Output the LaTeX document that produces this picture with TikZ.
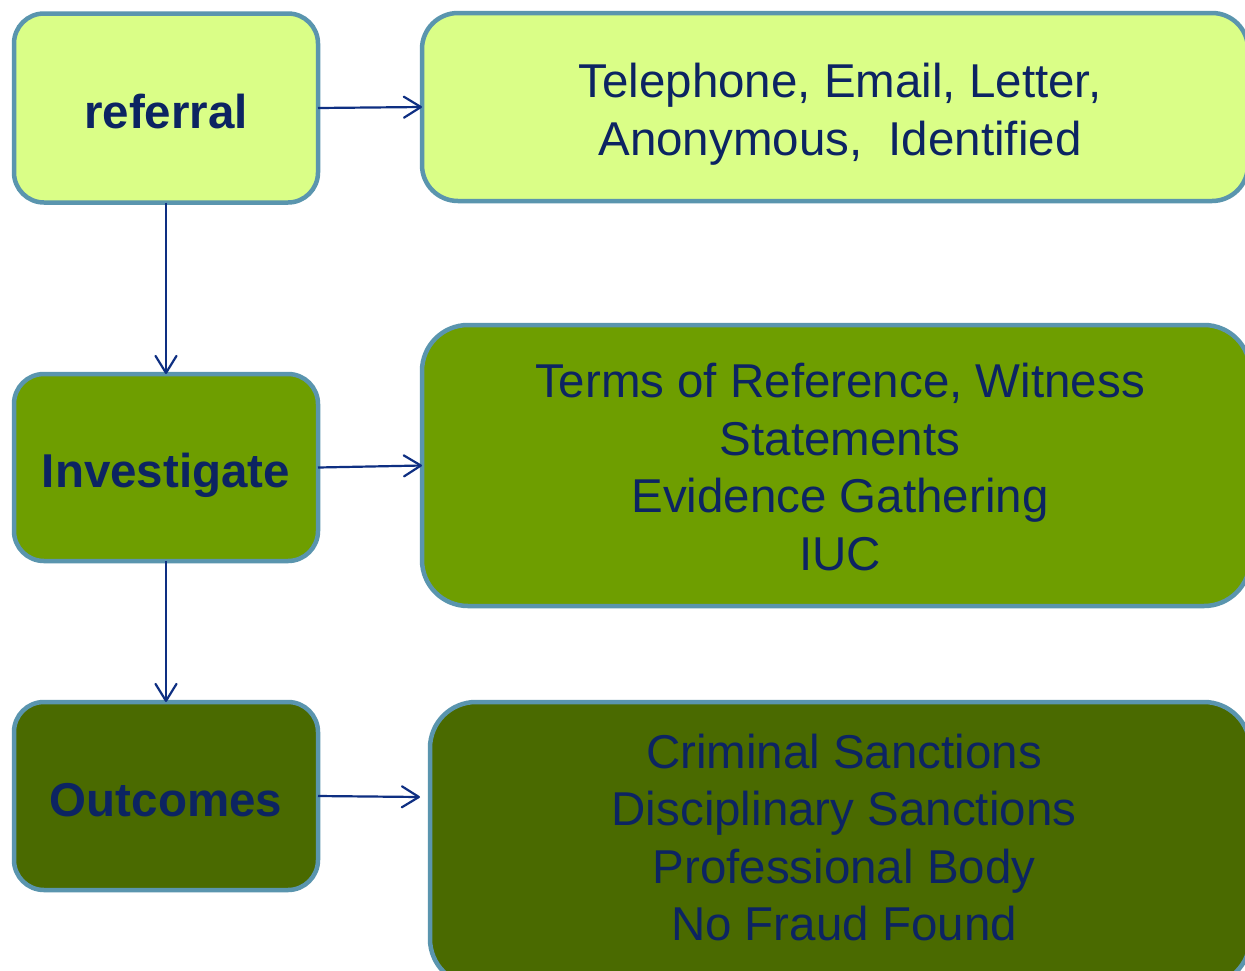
\documentclass[tikz,border=0pt]{standalone}
\usepackage{fontspec}
\setmainfont{Liberation Sans}
\usetikzlibrary{arrows.meta}
\definecolor{edgeblue}{HTML}{5A95AE}
\definecolor{lightg}{HTML}{DAFE87}
\definecolor{midg}{HTML}{6E9E00}
\definecolor{darkg}{HTML}{4A6A00}
\definecolor{navy}{HTML}{0C2462}
\definecolor{arrowc}{HTML}{0E2F82}
\tikzset{
  box/.style={draw=edgeblue, line width=4.5pt, inner sep=0pt, outer sep=0pt},
  lbl/.style={text=navy, font=\fontsize{47.5}{57.5}\selectfont\bfseries, text height=40pt, text depth=0pt},
  txt/.style={text=navy, font=\fontsize{47.5}{57.5}\selectfont, align=center, inner sep=0pt},
  conn/.style={draw=arrowc, line width=2.2pt, -{Straight Barb[length=17pt,width=21pt,line cap=round,line join=round]}}
}
\begin{document}
\begin{tikzpicture}[x=1pt,y=-1pt]
\useasboundingbox (0,0) rectangle (1245,970);
\clip (0,0) rectangle (1245,970);
\fill[white] (0,0) rectangle (1245,970);
% left boxes
\node[box, fill=lightg, rounded corners=30pt, minimum width=304pt, minimum height=189pt, lbl] (ref) at (166,108) {referral};
\node[box, fill=midg, rounded corners=30pt, minimum width=304pt, minimum height=187pt, lbl] (inv) at (166,467.5) {Investigate};
\node[box, fill=darkg, rounded corners=30pt, minimum width=304pt, minimum height=188pt, lbl] (out) at (166,796) {Outcomes};
% right boxes
\node[box, fill=lightg, rounded corners=36pt, minimum width=826pt, minimum height=188pt] (rtop) at (835,107) {};
\node[box, fill=midg, rounded corners=46pt, minimum width=828pt, minimum height=281pt] (rmid) at (836,465.5) {};
\node[box, fill=darkg, rounded corners=46pt, minimum width=820pt, minimum height=283pt] (rbot) at (840,843.5) {};
% texts
\node[txt] (ttop) at (840,114) {Telephone, Email, Letter,\\Anonymous,~ Identified};
\node[txt] (tmid) at (840,467) {Terms of Reference, Witness\\Statements\\Evidence Gathering\\IUC};
\node[txt] (tbot) at (844,837.5) {Criminal Sanctions\\Disciplinary Sanctions\\Professional Body\\No Fraud Found};
% connectors
\coordinate (botin) at (420,797);
\draw[conn] (ref.east) -- (rtop.west);
\draw[conn] (inv.east) -- (rmid.west);
\draw[conn] (out.east) -- (botin);
\draw[conn] (ref.south) -- (inv.north);
\draw[conn] (inv.south) -- (out.north);
\end{tikzpicture}
\end{document}
